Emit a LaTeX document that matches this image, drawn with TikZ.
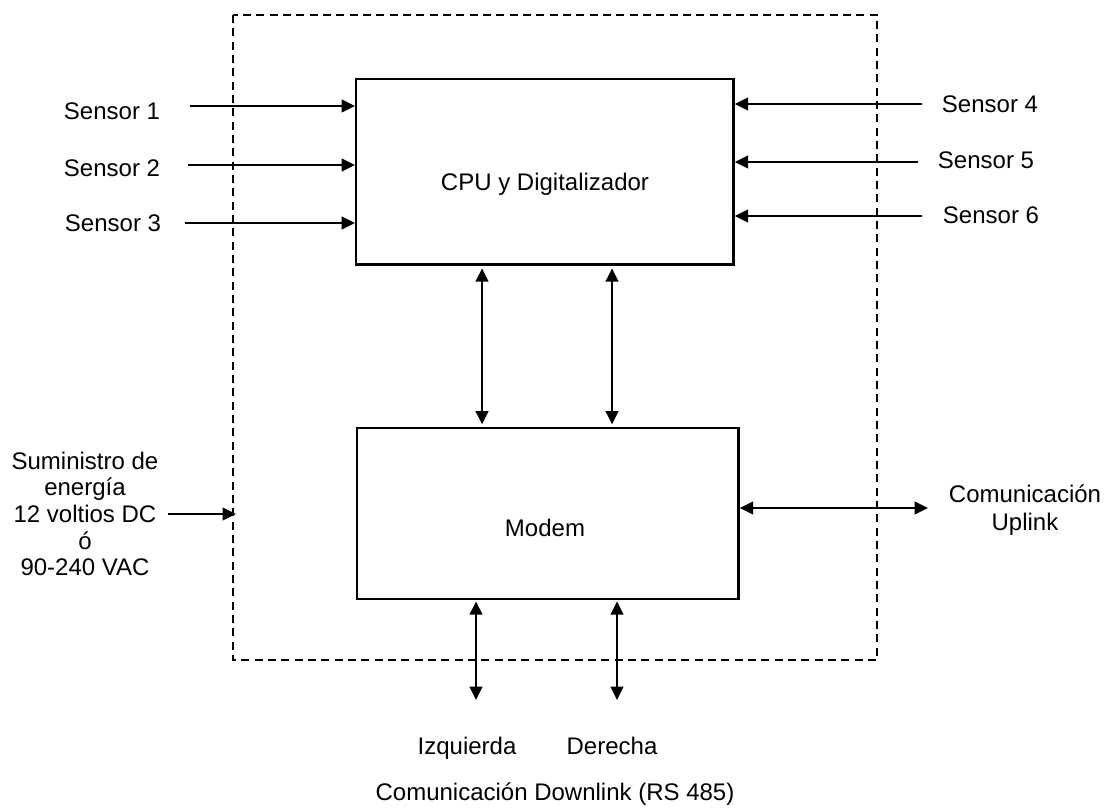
\documentclass[tikz,border=0pt]{standalone}
\usepackage{fontspec}
\setmainfont{Liberation Sans}
\usetikzlibrary{arrows.meta}
\begin{document}
\begin{tikzpicture}[x=0.75pt,y=-0.75pt,
  lbl/.style={font=\fontsize{18}{21}\selectfont,inner sep=0pt},
  arr/.style={line width=1.6pt,-{Triangle[length=10pt,width=9.5pt]}},
  biarr/.style={line width=1.6pt,{Triangle[length=10pt,width=9.5pt]}-{Triangle[length=10pt,width=9.5pt]}},
  blk/.style={draw,line width=1.8pt,inner sep=0pt,anchor=north west},
  encl/.style={draw,line width=1.6pt,dash pattern=on 6pt off 4pt}]
\useasboundingbox (0,0) rectangle (1113,807);
% enclosure
\draw[encl] (233,15) rectangle (877,660);
% main blocks
\node[blk,minimum width=283pt,minimum height=139pt] (cpu) at (355,78) {};
\node[lbl] (cpul) at (545,184) {CPU y Digitalizador};
\node[blk,minimum width=286pt,minimum height=128pt] (mod) at (356,427) {};
\node[lbl] (modl) at (545,528) {Modem};
% sensors left
\node[lbl,anchor=base] (s1) at (112,119) {Sensor 1};
\node[lbl,anchor=base] (s2) at (112,176) {Sensor 2};
\node[lbl,anchor=base] (s3) at (113,231) {Sensor 3};
\coordinate (s1a) at (190,106);
\coordinate (s2a) at (188,165);
\coordinate (s3a) at (185,223);
\draw[arr] (s1a) -- (s1a -| cpu.west);
\draw[arr] (s2a) -- (s2a -| cpu.west);
\draw[arr] (s3a) -- (s3a -| cpu.west);
% sensors right
\node[lbl,anchor=base] (s4) at (990,112) {Sensor 4};
\node[lbl,anchor=base] (s5) at (986,168) {Sensor 5};
\node[lbl,anchor=base] (s6) at (991,223) {Sensor 6};
\coordinate (s4a) at (922,104);
\coordinate (s5a) at (918,162);
\coordinate (s6a) at (922,216);
\draw[arr] (s4a) -- (s4a -| cpu.east);
\draw[arr] (s5a) -- (s5a -| cpu.east);
\draw[arr] (s6a) -- (s6a -| cpu.east);
% CPU <-> Modem
\coordinate (c1) at (482,0);
\coordinate (c2) at (612,0);
\draw[biarr,shorten <=2pt,shorten >=2pt] (c1 |- cpu.south) -- (c1 |- mod.north);
\draw[biarr,shorten <=2pt,shorten >=2pt] (c2 |- cpu.south) -- (c2 |- mod.north);
% power supply
\node[lbl,align=center] (pw) at (85,514) {Suministro de\\[-1pt]energía\\[-1pt]12 voltios DC\\[-1pt]ó\\[-1pt]90-240 VAC};
\coordinate (pwa) at (168,514);
\coordinate (pwb) at (236,514);
\draw[arr] (pwa) -- (pwb);
% uplink
\coordinate (up) at (928,508);
\draw[biarr] (mod.east |- up) -- (up);
\node[lbl,align=center] (upl) at (1025,510) {Comunicación\\Uplink};
% downlink
\coordinate (d1) at (476,700);
\coordinate (d2) at (617,700);
\draw[biarr,shorten <=1pt] (d1 |- mod.south) -- (d1);
\draw[biarr,shorten <=1pt] (d2 |- mod.south) -- (d2);
\node[lbl,anchor=base] (izq) at (467,754) {Izquierda};
\node[lbl,anchor=base] (der) at (612,754) {Derecha};
\node[lbl,anchor=base] (dl) at (555,800) {Comunicación Downlink (RS 485)};
\end{tikzpicture}
\end{document}
